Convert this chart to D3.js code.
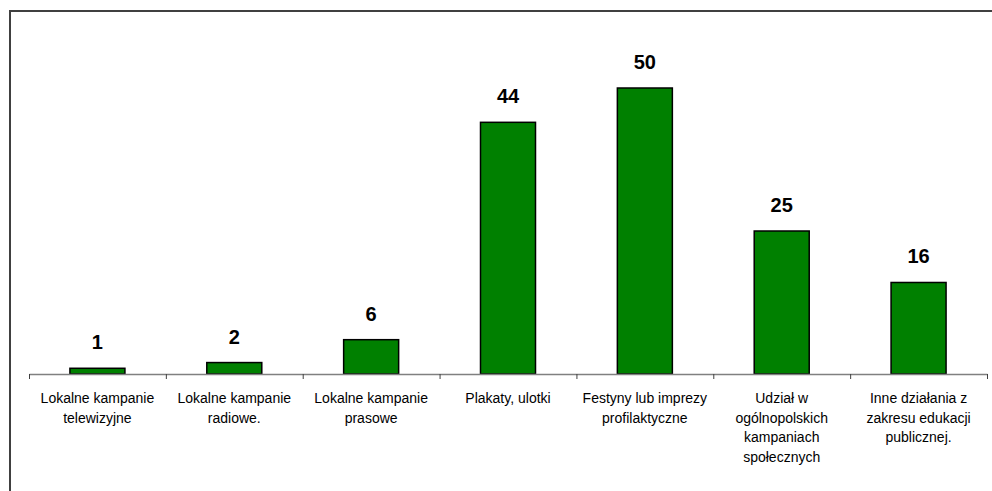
<!DOCTYPE html>
<html>
<head>
<meta charset="utf-8">
<script src="https://cdn.jsdelivr.net/npm/d3@7"></script>
<style>
  body { margin: 0; background: #fff; }
  svg { display: block; font-family: Arial, "Liberation Sans", sans-serif; }
</style>
</head>
<body>
<div id="chart"></div>
<script>
// data
var categories = [
    ["Lokalne kampanie", "telewizyjne"],
    ["Lokalne kampanie", "radiowe."],
    ["Lokalne kampanie", "prasowe"],
    ["Plakaty, ulotki"],
    ["Festyny lub imprezy", "profilaktyczne"],
    ["Udział w", "ogólnopolskich", "kampaniach", "społecznych"],
    ["Inne działania z", "zakresu edukacji", "publicznej."]
];
var values = [1, 2, 6, 44, 50, 25, 16];

var width = 992, height = 491;
var plot = { left: 29, right: 987, bottom: 374 };

var svg = d3.select("#chart").append("svg")
    .attr("width", width)
    .attr("height", height);

// outer frame (only top and left edges are visible)
svg.append("path")
    .attr("d", "M10," + height + "V11H" + width)
    .style("fill", "none")
    .style("stroke", "#404040")
    .style("stroke-width", 2);

var pad = 1 - 55 / ((plot.right - plot.left) / categories.length);
var x = d3.scaleBand()
    .domain(d3.range(categories.length))
    .range([plot.left, plot.right])
    .paddingInner(pad)
    .paddingOuter(pad / 2);

// boundaries between categories for the tick marks
var xb = d3.scaleLinear()
    .domain([0, categories.length])
    .range([plot.left, plot.right]);

var y = d3.scaleLinear()
    .domain([0, 60])
    .range([plot.bottom, plot.bottom - 343.2]);

// bars
svg.selectAll("rect.bar")
    .data(values)
    .enter().append("rect")
    .attr("class", "bar")
    .attr("x", function (d, i) { return x(i); })
    .attr("y", function (d) { return y(d); })
    .attr("width", x.bandwidth())
    .attr("height", function (d) { return y(0) - y(d); })
    .style("fill", "#008000")
    .style("stroke", "#000")
    .style("stroke-width", 1.5);

// value labels
svg.selectAll("text.val")
    .data(values)
    .enter().append("text")
    .attr("class", "val")
    .attr("x", function (d, i) { return x(i) + x.bandwidth() / 2; })
    .attr("y", function (d) { return y(d) - 19; })
    .attr("text-anchor", "middle")
    .style("font-size", "20px")
    .style("font-weight", "bold")
    .style("fill", "#000")
    .text(function (d) { return d; });

// x axis
var axis = svg.append("g")
    .attr("transform", "translate(0," + plot.bottom + ")")
    .call(d3.axisBottom(xb)
        .tickValues(d3.range(categories.length + 1))
        .tickSize(5)
        .tickSizeOuter(0)
        .tickFormat(""));
axis.select(".domain").style("stroke", "#808080").style("stroke-width", 1.5);
axis.selectAll(".tick line").style("stroke", "#404040");

// category labels
var labels = svg.selectAll("text.cat")
    .data(categories)
    .enter().append("text")
    .attr("class", "cat")
    .attr("text-anchor", "middle")
    .style("font-size", "14px")
    .style("fill", "#000");

labels.each(function (lines, i) {
    var t = d3.select(this);
    lines.forEach(function (line, j) {
        t.append("tspan")
            .attr("x", x(i) + x.bandwidth() / 2)
            .attr("y", 403 + j * 19.6)
            .text(line);
    });
});
</script>
</body>
</html>
